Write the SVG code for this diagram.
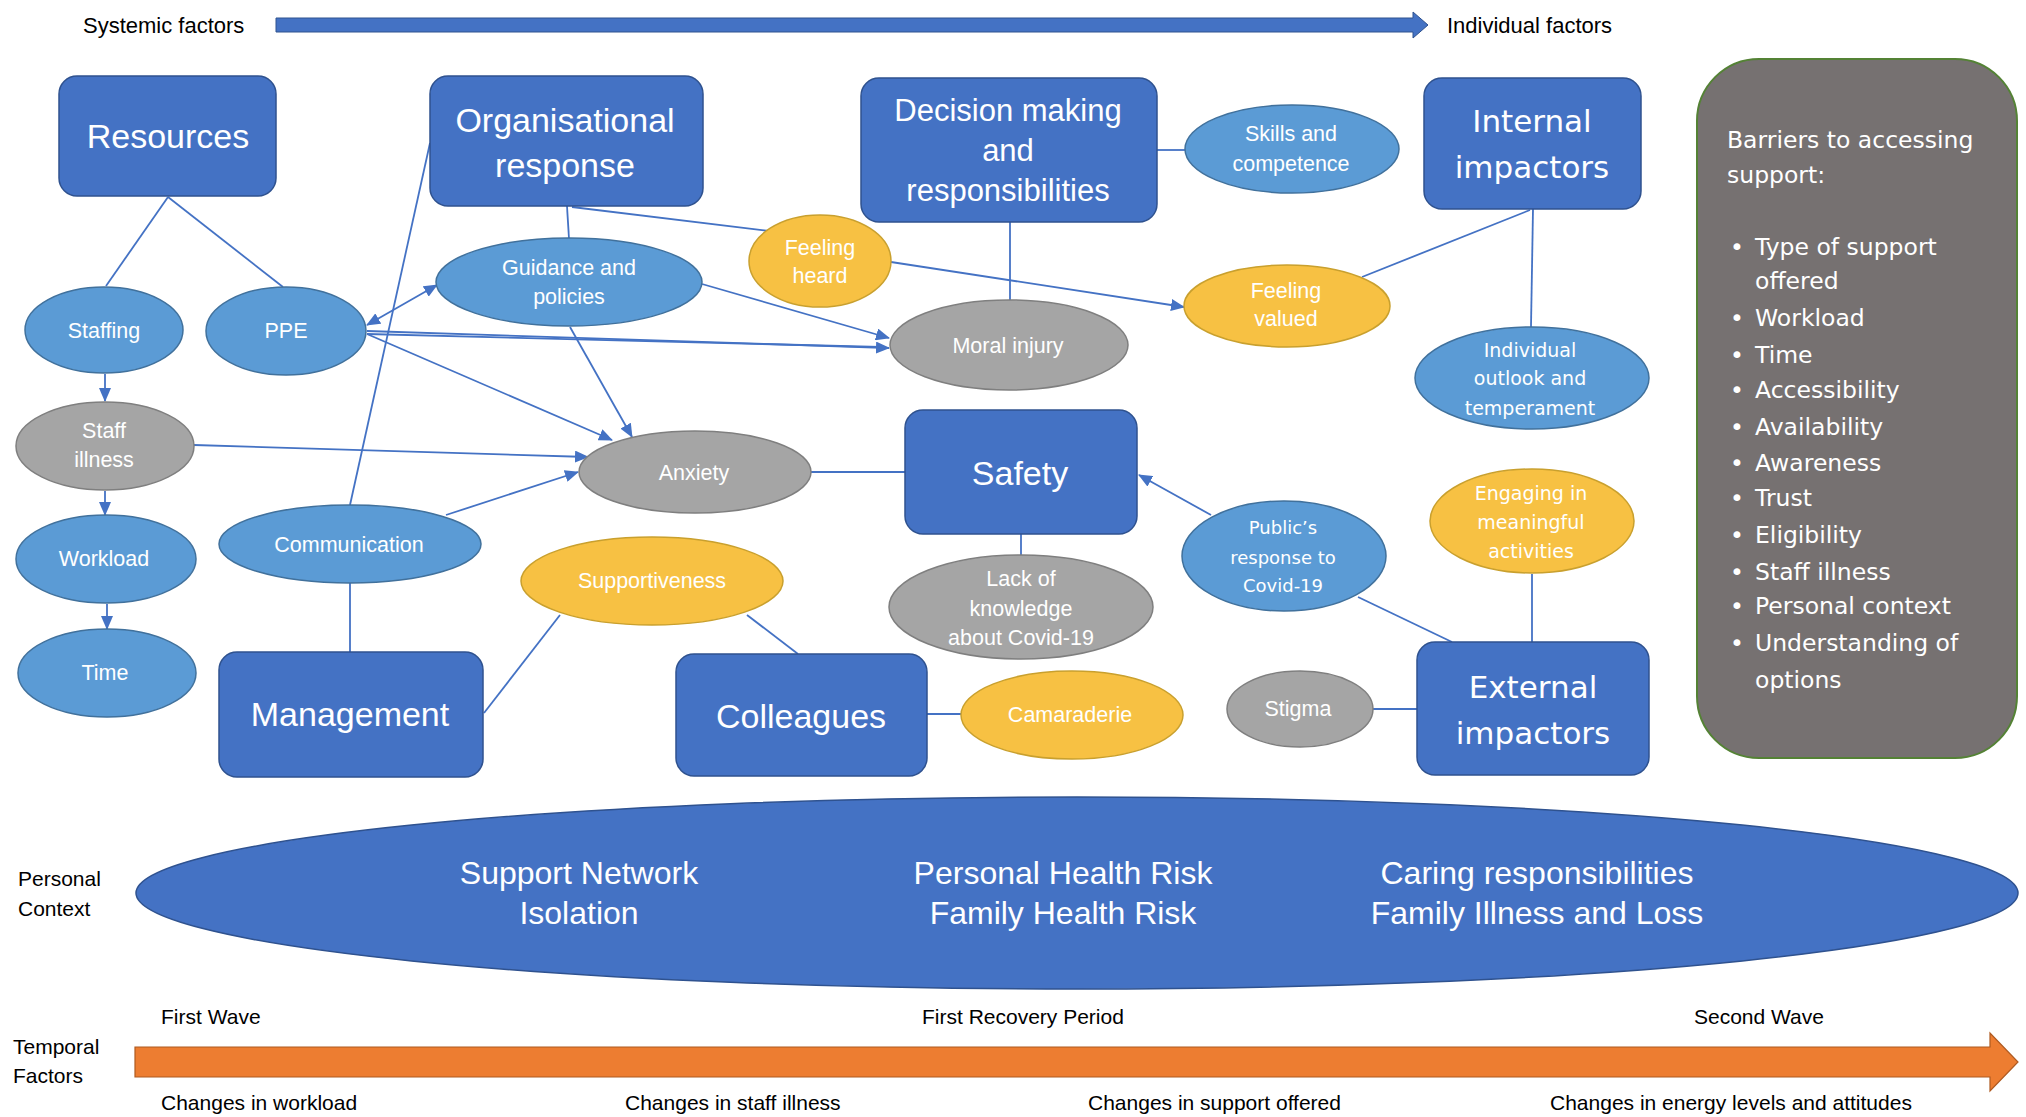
<svg xmlns="http://www.w3.org/2000/svg" width="2026" height="1117" viewBox="0 0 2026 1117">
<defs>
<marker id="ah" markerUnits="userSpaceOnUse" markerWidth="14" markerHeight="12" refX="13" refY="6" orient="auto-start-reverse">
<path d="M0,0 L14,6 L0,12 z" fill="#4472C4"/>
</marker>
<style>
.box{fill:#4472C4;stroke:#2F528F;stroke-width:1.5}
.eb{fill:#5B9BD5;stroke:#41719C;stroke-width:1.5}
.eg{fill:#A5A5A5;stroke:#7F7F7F;stroke-width:1.5}
.eo{fill:#F7C143;stroke:#C9A02E;stroke-width:1.5}
.bt{font-family:"Liberation Sans",Arial,sans-serif;font-size:34px;fill:#fff;text-anchor:middle}
.bd{font-family:"DejaVu Sans",Verdana,sans-serif;font-size:31px;fill:#fff;text-anchor:middle}
.et{font-family:"Liberation Sans",Arial,sans-serif;font-size:21.5px;fill:#fff;text-anchor:middle}
.ed{font-family:"DejaVu Sans",Verdana,sans-serif;font-size:19px;fill:#fff;text-anchor:middle}
.lb{font-family:"Liberation Sans",Arial,sans-serif;font-size:21px;fill:#000}
.pc{font-family:"Liberation Sans",Arial,sans-serif;font-size:32px;fill:#fff;text-anchor:middle}
.br{font-family:"DejaVu Sans",Verdana,sans-serif;font-size:23.5px;fill:#fff}
#connectors line{stroke:#4472C4;stroke-width:1.8;fill:none}
.arr{marker-end:url(#ah)}
</style>
</defs>
<rect width="2026" height="1117" fill="#fff"/>

<g id="systemic-axis">
<polygon points="276,18 1413,18 1413,12 1428,25 1413,38 1413,32 276,32" fill="#4472C4" stroke="#2F528F" stroke-width="1"/>
<text class="lb" x="83" y="33" style="font-size:22px">Systemic factors</text>
<text class="lb" x="1447" y="33" style="font-size:22px">Individual factors</text>
</g>

<g id="connectors">
<line x1="168" y1="197" x2="106" y2="286"/>
<line x1="168" y1="197" x2="283" y2="287"/>
<line class="arr" x1="105" y1="374" x2="105" y2="401"/>
<line class="arr" x1="105" y1="491" x2="105" y2="515"/>
<line class="arr" x1="107" y1="604" x2="107" y2="629"/>
<line x1="367" y1="325" x2="437" y2="285" marker-start="url(#ah)" marker-end="url(#ah)"/>
<line class="arr" x1="367" y1="331" x2="889" y2="348"/>
<line x1="367" y1="334" x2="880" y2="347"/>
<line class="arr" x1="702" y1="284" x2="889" y2="338"/>
<line class="arr" x1="367" y1="334" x2="612" y2="440"/>
<line class="arr" x1="570" y1="327" x2="632" y2="437"/>
<line class="arr" x1="194" y1="445" x2="588" y2="457"/>
<line class="arr" x1="446" y1="515" x2="578" y2="472"/>
<line x1="350" y1="505" x2="430" y2="143"/>
<line x1="350" y1="583" x2="350" y2="652"/>
<line x1="484" y1="713" x2="560" y2="615"/>
<line x1="747" y1="615" x2="798" y2="654"/>
<line x1="926" y1="714" x2="961" y2="714"/>
<line x1="811" y1="472" x2="905" y2="472"/>
<line x1="1021" y1="534" x2="1021" y2="556"/>
<line class="arr" x1="1211" y1="515" x2="1139" y2="475"/>
<line x1="1358" y1="597" x2="1452" y2="642"/>
<line x1="1372" y1="709" x2="1417" y2="709"/>
<line x1="1532" y1="574" x2="1532" y2="642"/>
<line x1="1533" y1="209" x2="1531" y2="327"/>
<line x1="1530" y1="210" x2="1362" y2="277"/>
<line class="arr" x1="891" y1="262" x2="1184" y2="307"/>
<line x1="572" y1="207" x2="769" y2="231"/>
<line x1="567" y1="206" x2="569" y2="239"/>
<line x1="1010" y1="222" x2="1010" y2="300"/>
<line x1="1157" y1="150" x2="1185" y2="150"/>
</g>

<g id="resources"><rect class="box" x="59" y="76" width="217" height="120" rx="18"/><text class="bt" x="168" y="148">Resources</text></g>
<g id="organisational-response"><rect class="box" x="430" y="76" width="273" height="130" rx="18"/><text class="bt" x="565" y="132">Organisational</text><text class="bt" x="565" y="177">response</text></g>
<g id="decision-making"><rect class="box" x="861" y="78" width="296" height="144" rx="18"/><text class="bt" style="font-size:31px" x="1008" y="121">Decision making</text><text class="bt" style="font-size:31px" x="1008" y="161">and</text><text class="bt" style="font-size:31px" x="1008" y="201">responsibilities</text></g>
<g id="internal-impactors"><rect class="box" x="1424" y="78" width="217" height="131" rx="18"/><text class="bd" x="1532" y="132">Internal</text><text class="bd" x="1532" y="178">impactors</text></g>
<g id="safety"><rect class="box" x="905" y="410" width="232" height="124" rx="18"/><text class="bt" x="1020" y="485">Safety</text></g>
<g id="management"><rect class="box" x="219" y="652" width="264" height="125" rx="18"/><text class="bt" x="350" y="726">Management</text></g>
<g id="colleagues"><rect class="box" x="676" y="654" width="251" height="122" rx="18"/><text class="bt" x="801" y="728">Colleagues</text></g>
<g id="external-impactors"><rect class="box" x="1417" y="642" width="232" height="133" rx="18"/><text class="bd" x="1533" y="698">External</text><text class="bd" x="1533" y="744">impactors</text></g>

<g id="staffing"><ellipse class="eb" cx="104" cy="330" rx="79" ry="43"/><text class="et" x="104" y="338">Staffing</text></g>
<g id="ppe"><ellipse class="eb" cx="286" cy="331" rx="80" ry="44"/><text class="et" x="286" y="338">PPE</text></g>
<g id="guidance"><ellipse class="eb" cx="569" cy="282" rx="133" ry="44"/><text class="et" x="569" y="275">Guidance and</text><text class="et" x="569" y="304">policies</text></g>
<g id="feeling-heard"><ellipse class="eo" cx="820" cy="261" rx="71" ry="46"/><text class="et" x="820" y="255">Feeling</text><text class="et" x="820" y="283">heard</text></g>
<g id="skills"><ellipse class="eb" cx="1292" cy="149" rx="107" ry="44"/><text class="et" x="1291" y="141">Skills and</text><text class="et" x="1291" y="171">competence</text></g>
<g id="moral-injury"><ellipse class="eg" cx="1009" cy="345" rx="119" ry="45"/><text class="et" x="1008" y="353">Moral injury</text></g>
<g id="feeling-valued"><ellipse class="eo" cx="1287" cy="306" rx="103" ry="41"/><text class="et" x="1286" y="298">Feeling</text><text class="et" x="1286" y="326">valued</text></g>
<g id="individual-outlook"><ellipse class="eb" cx="1532" cy="378" rx="117" ry="51"/><text class="ed" x="1530" y="357">Individual</text><text class="ed" x="1530" y="385">outlook and</text><text class="ed" x="1530" y="415">temperament</text></g>
<g id="staff-illness"><ellipse class="eg" cx="105" cy="446" rx="89" ry="44"/><text class="et" x="104" y="438">Staff</text><text class="et" x="104" y="467">illness</text></g>
<g id="anxiety"><ellipse class="eg" cx="695" cy="472" rx="116" ry="41"/><text class="et" x="694" y="480">Anxiety</text></g>
<g id="workload"><ellipse class="eb" cx="106" cy="559" rx="90" ry="44"/><text class="et" x="104" y="566">Workload</text></g>
<g id="time"><ellipse class="eb" cx="107" cy="673" rx="89" ry="44"/><text class="et" x="105" y="680">Time</text></g>
<g id="communication"><ellipse class="eb" cx="350" cy="544" rx="131" ry="39"/><text class="et" x="349" y="552">Communication</text></g>
<g id="supportiveness"><ellipse class="eo" cx="652" cy="581" rx="131" ry="44"/><text class="et" x="652" y="588">Supportiveness</text></g>
<g id="lack-of-knowledge"><ellipse class="eg" cx="1021" cy="607" rx="132" ry="52"/><text class="et" x="1021" y="586">Lack of</text><text class="et" x="1021" y="616">knowledge</text><text class="et" x="1021" y="645">about Covid-19</text></g>
<g id="publics-response"><ellipse class="eb" cx="1284" cy="556" rx="102" ry="55"/><text class="ed" style="font-size:18px" x="1283" y="534">Public’s</text><text class="ed" style="font-size:18px" x="1283" y="564">response to</text><text class="ed" style="font-size:18px" x="1283" y="592">Covid-19</text></g>
<g id="engaging"><ellipse class="eo" cx="1532" cy="521" rx="102" ry="52"/><text class="ed" x="1531" y="500">Engaging in</text><text class="ed" x="1531" y="529">meaningful</text><text class="ed" x="1531" y="558">activities</text></g>
<g id="camaraderie"><ellipse class="eo" cx="1072" cy="715" rx="111" ry="44"/><text class="et" x="1070" y="722">Camaraderie</text></g>
<g id="stigma"><ellipse class="eg" cx="1300" cy="709" rx="73" ry="38"/><text class="et" x="1298" y="716">Stigma</text></g>

<g id="barriers">
<rect x="1697" y="59" width="320" height="699" rx="62" fill="#767171" stroke="#548235" stroke-width="2"/>
<text class="br" x="1727" y="148">Barriers to accessing</text>
<text class="br" x="1727" y="183">support:</text>
<g class="br">
<text x="1730" y="255">•</text><text x="1755" y="255">Type of support</text>
<text x="1755" y="289">offered</text>
<text x="1730" y="326">•</text><text x="1755" y="326">Workload</text>
<text x="1730" y="363">•</text><text x="1755" y="363">Time</text>
<text x="1730" y="398">•</text><text x="1755" y="398">Accessibility</text>
<text x="1730" y="435">•</text><text x="1755" y="435">Availability</text>
<text x="1730" y="471">•</text><text x="1755" y="471">Awareness</text>
<text x="1730" y="506">•</text><text x="1755" y="506">Trust</text>
<text x="1730" y="543">•</text><text x="1755" y="543">Eligibility</text>
<text x="1730" y="580">•</text><text x="1755" y="580">Staff illness</text>
<text x="1730" y="614">•</text><text x="1755" y="614">Personal context</text>
<text x="1730" y="651">•</text><text x="1755" y="651">Understanding of</text>
<text x="1755" y="688">options</text>
</g>
</g>

<g id="personal-context">
<ellipse cx="1077" cy="893" rx="941" ry="96" fill="#4472C4" stroke="#2F528F" stroke-width="1.5"/>
<text class="pc" x="579" y="884">Support Network</text>
<text class="pc" x="579" y="924">Isolation</text>
<text class="pc" x="1063" y="884">Personal Health Risk</text>
<text class="pc" x="1063" y="924">Family Health Risk</text>
<text class="pc" x="1537" y="884">Caring responsibilities</text>
<text class="pc" x="1537" y="924">Family Illness and Loss</text>
<text class="lb" x="18" y="886">Personal</text>
<text class="lb" x="18" y="916">Context</text>
</g>

<g id="temporal-factors">
<polygon points="135,1047 1990,1047 1990,1033 2018,1062 1990,1091 1990,1077 135,1077" fill="#ED7D31" stroke="#AE5A21" stroke-width="1.2"/>
<text class="lb" x="13" y="1054">Temporal</text>
<text class="lb" x="13" y="1083">Factors</text>
<text class="lb" x="161" y="1024">First Wave</text>
<text class="lb" x="922" y="1024">First Recovery Period</text>
<text class="lb" x="1694" y="1024">Second Wave</text>
<text class="lb" x="161" y="1110">Changes in workload</text>
<text class="lb" x="625" y="1110">Changes in staff illness</text>
<text class="lb" x="1088" y="1110">Changes in support offered</text>
<text class="lb" x="1550" y="1110">Changes in energy levels and attitudes</text>
</g>
</svg>
